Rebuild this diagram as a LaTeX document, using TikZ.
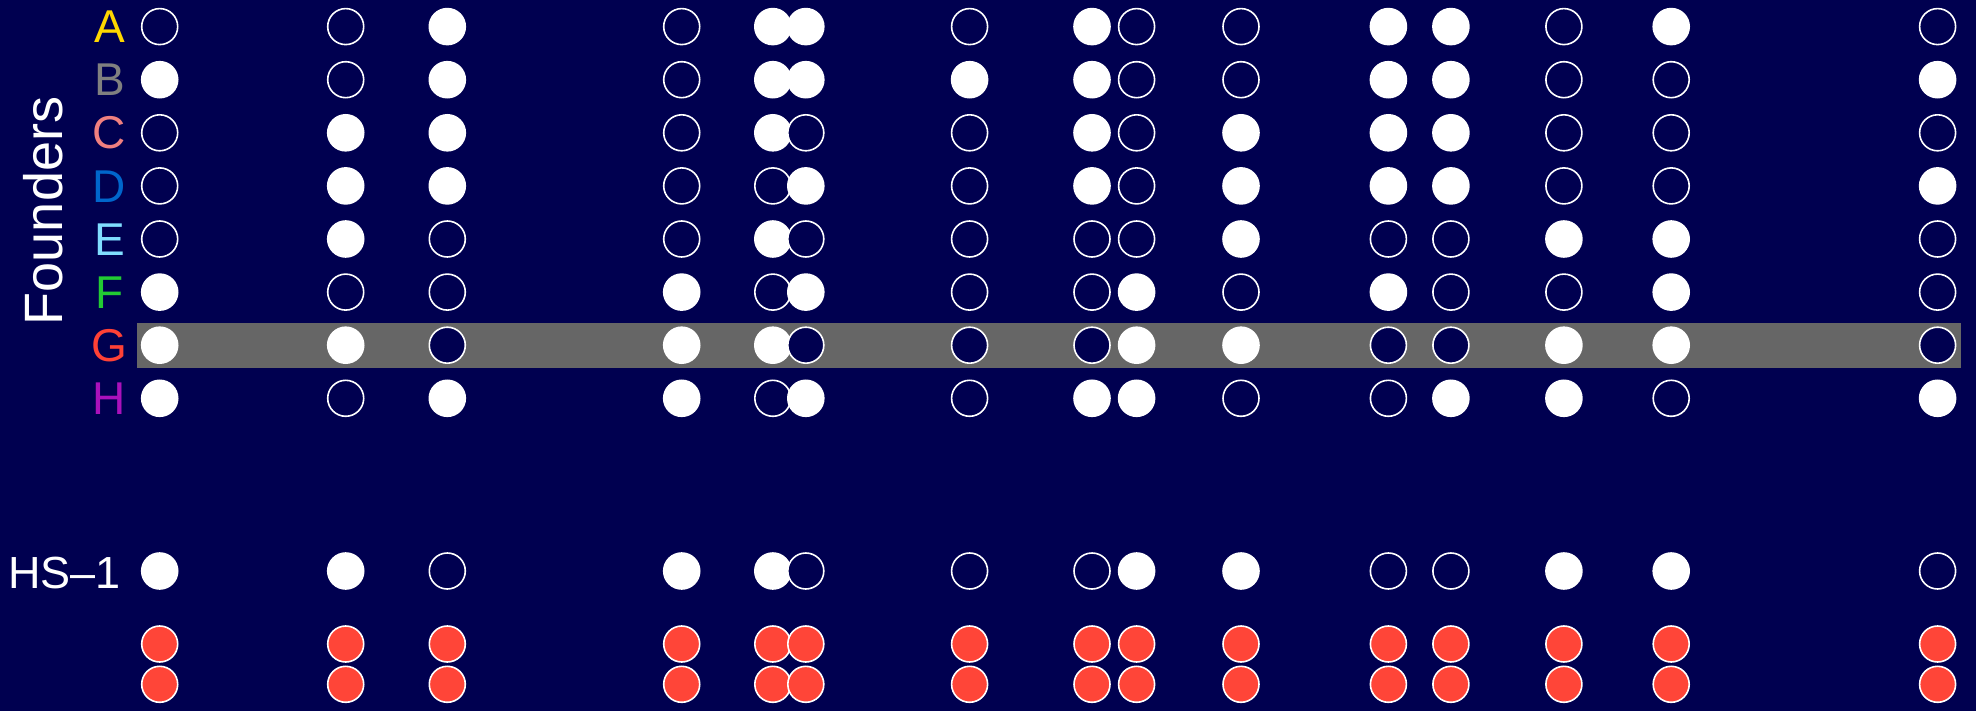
\documentclass[tikz,border=0pt]{standalone}
\usepackage{fontspec}
\setmainfont{Liberation Sans}
\definecolor{navybg}{HTML}{000050}
\definecolor{band}{HTML}{666666}
\definecolor{dotred}{HTML}{FF4538}
\definecolor{cA}{HTML}{FFD700}
\definecolor{cB}{HTML}{808080}
\definecolor{cC}{HTML}{F08080}
\definecolor{cD}{HTML}{0066CC}
\definecolor{cE}{HTML}{80DDFF}
\definecolor{cF}{HTML}{22CC33}
\definecolor{cG}{HTML}{FF4136}
\definecolor{cH}{HTML}{AA11BB}
\begin{document}
\begin{tikzpicture}[x=1pt,y=-1pt,
  dot/.style={circle,minimum size=36pt,inner sep=0pt,line width=1.6pt,draw=white},
  dotopen/.style={dot,fill=navybg},
  dotfull/.style={dot,fill=white},
  dotred/.style={dot,fill=dotred},
  lbl/.style={font=\fontsize{46}{46}\selectfont,anchor=base,inner sep=0pt}]
\fill[navybg] (0,0) rectangle (1976,711);
\useasboundingbox (0,0) rectangle (1976,711);
\fill[band] (137,322.7) rectangle (1960.5,368);
% row labels
\node[lbl,text=cA] (lA) at (109.5,42.8) {A};
\node[lbl,text=cB] (lB) at (109.5,95.9) {B};
\node[lbl,text=cC] (lC) at (109.5,149.0) {C};
\node[lbl,text=cD] (lD) at (109.5,202.1) {D};
\node[lbl,text=cE] (lE) at (109.5,255.2) {E};
\node[lbl,text=cF] (lF) at (109.5,308.3) {F};
\node[lbl,text=cG] (lG) at (109.5,361.4) {G};
\node[lbl,text=cH] (lH) at (109.5,414.5) {H};
\node[font=\fontsize{54}{54}\selectfont,text=white,rotate=90,anchor=base,inner sep=0pt] (founders) at (62.3,211) {Founders};
\node[font=\fontsize{45}{45}\selectfont,text=white,anchor=base west,inner sep=0pt] (hs) at (8,588.3) {HS–1};
% dots
\foreach \c/\x/\ra/\rb/\rc/\rd/\re/\rf/\rg/\rh/\hs in {
  1/159.7/0/1/0/0/0/1/1/1/1,
  2/345.7/0/0/1/1/1/0/1/0/1,
  3/447.3/1/1/1/1/0/0/0/1/0,
  4/681.7/0/0/0/0/0/1/1/1/1,
  5/772.8/1/1/1/0/1/0/1/0/1,
  6/805.8/1/1/0/1/0/1/0/1/0,
  7/969.6/0/1/0/0/0/0/0/0/0,
  8/1092/1/1/1/1/0/0/0/1/0,
  9/1136.6/0/0/0/0/0/1/1/1/1,
  10/1241/0/0/1/1/1/0/1/0/1,
  11/1388.4/1/1/1/1/0/1/0/0/0,
  12/1450.9/1/1/1/1/0/0/0/1/0,
  13/1563.9/0/0/0/0/1/0/1/1/1,
  14/1671.2/1/0/0/0/1/1/1/0/1,
  15/1937.6/0/1/0/1/0/0/0/1/0}{
  \foreach \r/\y/\v in {A/26.6/\ra,B/79.7/\rb,C/132.8/\rc,D/185.9/\rd,E/239.0/\re,F/292.1/\rf,G/345.2/\rg,H/398.3/\rh,HS/571/\hs}{
    \ifnum\v=1
      \node[dotfull] (\r-\c) at (\x,\y) {};
    \else
      \node[dotopen] (\r-\c) at (\x,\y) {};
    \fi
  }
  \node[dotred] (Ra-\c) at (\x,644) {};
  \node[dotred] (Rb-\c) at (\x,684.3) {};
}
\end{tikzpicture}
\end{document}
